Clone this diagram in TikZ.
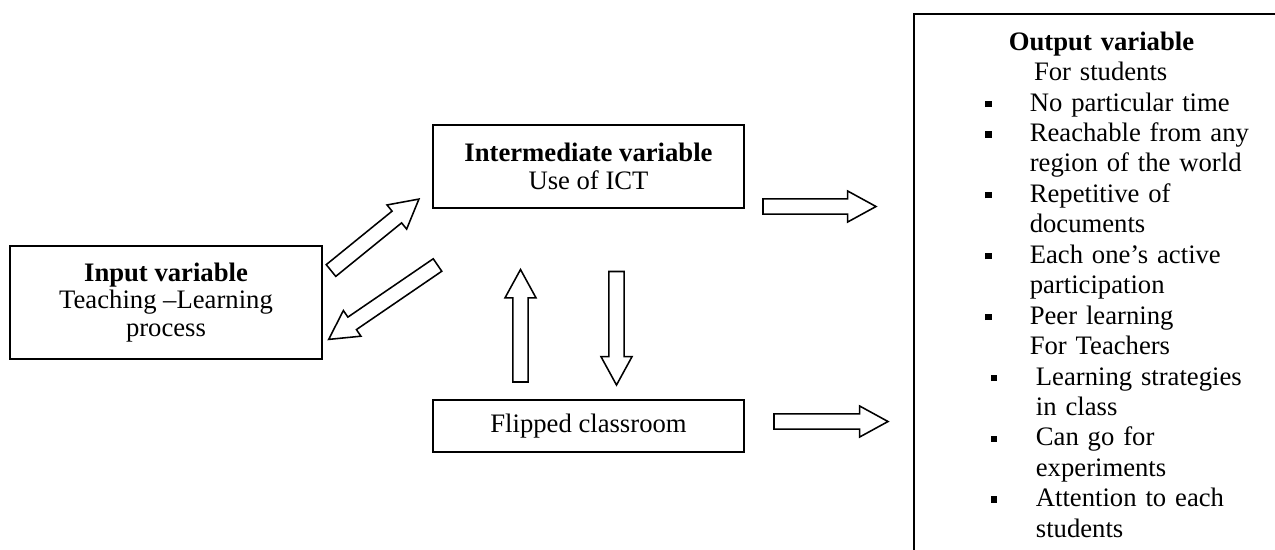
\documentclass[tikz,border=0pt]{standalone}
\usepackage{fontspec}
\setmainfont{Liberation Serif}
\usetikzlibrary{calc}

\tikzset{
  varbox/.style={draw, line width=0.8pt, rectangle, align=center, inner sep=2pt,
    font={\fontsize{12pt}{12.4pt}\selectfont}},
  outbox/.style={draw, line width=0.8pt, rectangle, anchor=north west, align=left,
    text width=135pt, inner xsep=30.15pt, inner ysep=8pt,
    font={\fontsize{12pt}{13.7pt}\selectfont}},
  blkline/.style={line width=0.7pt, fill=white, line join=miter},
}

% hollow block arrow from #1 to #2
\newcommand\blkarrow[2]{%
  \draw[blkline] let \p1=($(#2)-(#1)$), \n1={atan2(\y1,\x1)}, \n2={veclen(\x1,\y1)} in
    [shift={(#1)}, rotate=\n1]
    (0pt,-3.4pt) -- ({\n2-12.8pt},-3.4pt) -- ({\n2-12.8pt},-7pt) -- ({\n2+0pt},0pt)
    -- ({\n2-12.8pt},7pt) -- ({\n2-12.8pt},3.4pt) -- (0pt,3.4pt) -- cycle;}

\newcommand\sqA{\hspace*{2pt}\rule[1.8pt]{2.9pt}{2.9pt}\hspace*{17.1pt}}
\newcommand\sqB{\hspace*{4.5pt}\rule[1.8pt]{2.9pt}{2.9pt}\hspace*{17.35pt}}

\begin{document}
\begin{tikzpicture}[x=0.45pt, y=-0.45pt]
\useasboundingbox (0,0) rectangle (1275,549);
\clip (0,0) rectangle (1275,549);

\node(inp)[varbox, minimum width=140.4pt, minimum height=50.85pt] at (166,302.5)
  {\textbf{Input variable}\\Teaching –Learning\\process};
\node(ict)[varbox, minimum width=140pt, minimum height=37.35pt] at (588.5,166.5)
  {\textbf{Intermediate variable}\\Use of ICT};
\node(flip)[varbox, minimum width=140pt, minimum height=23.4pt] at (588.5,426)
  {Flipped classroom};

\node(out)[outbox] at (913,13) {%
\hspace*{12.6pt}\textbf{Output variable}\\
\hspace*{23.9pt}For students\\
\sqA No particular time\\
\sqA Reachable from any\\
\hspace*{22pt}region of the world\\
\sqA Repetitive of\\
\hspace*{22pt}documents\\
\sqA Each one’s active\\
\hspace*{22pt}participation\\
\sqA Peer learning\\
\hspace*{22pt}For Teachers\\
\sqB Learning strategies\\
\hspace*{24.75pt}in class\\
\sqB Can go for\\
\hspace*{24.75pt}experiments\\
\sqB Attention to each\\
\hspace*{24.75pt}students};

\coordinate(a1s) at (331,270.5);
\coordinate(a1e) at (419,199);
\coordinate(a2s) at (437.5,265);
\coordinate(a2e) at (328.5,339.5);
\coordinate(a3s) at (520.5,382);
\coordinate(a3e) at (520.5,269.5);
\coordinate(a4s) at (616.5,271.5);
\coordinate(a4e) at (616.5,385);
\coordinate(a5s) at (763,206.5);
\coordinate(a5e) at (876,206.5);
\coordinate(a6s) at (774,421.5);
\coordinate(a6e) at (888,421.5);

\blkarrow{a1s}{a1e}
\blkarrow{a2s}{a2e}
\blkarrow{a3s}{a3e}
\blkarrow{a4s}{a4e}
\blkarrow{a5s}{a5e}
\blkarrow{a6s}{a6e}
\end{tikzpicture}
\end{document}
